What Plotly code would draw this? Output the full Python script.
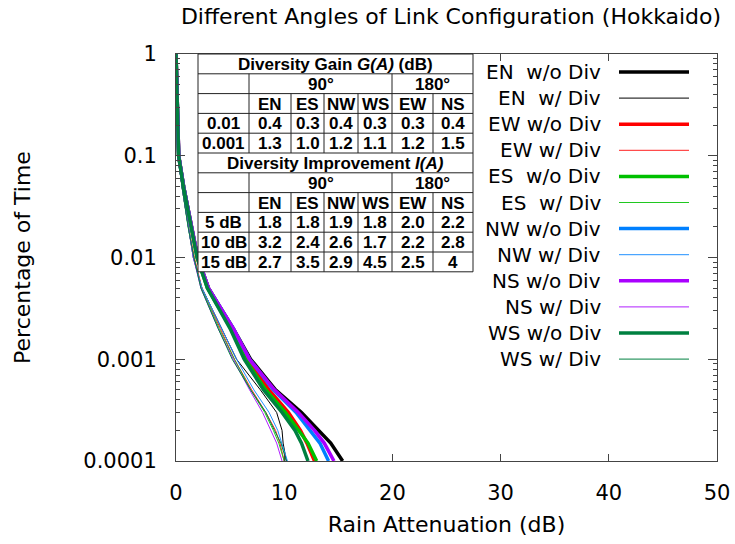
import plotly.graph_objects as go

# ---------------------------------------------------------------- data
# exceedance probability levels shared by all curves
prob = [1, 0.3, 0.1, 0.05, 0.02, 0.01, 0.005, 0.002, 0.001,
        0.0005, 0.0003, 0.0002, 0.00015, 0.0001]

# rain attenuation (dB) exceeded at each probability, single link (w/o Div)
en_wo = [0, 0.1, 0.25, 0.7, 1.45, 2.0, 3.0, 5.3, 6.9, 9.2, 11.6, 13.2, 14.3, 15.4]
ew_wo = [0, 0.1, 0.25, 0.7, 1.45, 2.0, 3.0, 5.2, 6.6, 8.6, 10.4, 11.5, 12.1, 12.8]
es_wo = [0, 0.1, 0.24, 0.7, 1.4, 1.95, 2.9, 5.1, 6.4, 8.3, 10.1, 11.3, 12.2, 13.0]
nw_wo = [0, 0.1, 0.25, 0.7, 1.45, 2.0, 3.0, 5.3, 6.8, 9.0, 11.1, 12.4, 13.3, 14.1]
ns_wo = [0, 0.1, 0.25, 0.7, 1.45, 2.0, 3.0, 5.3, 6.8, 9.1, 11.3, 12.8, 13.7, 14.6]
ws_wo = [0, 0.1, 0.24, 0.68, 1.4, 1.95, 2.9, 5.0, 6.3, 8.1, 9.8, 11.0, 11.6, 12.2]

# rain attenuation (dB) with site diversity (w/ Div)
en_w = [0, 0.08, 0.2, 0.55, 1.15, 1.6, 2.4, 4.2, 5.6, 7.8, 9.3, 9.8, 9.9, 10.2]
ew_w = [0, 0.08, 0.2, 0.55, 1.15, 1.7, 2.4, 4.1, 5.4, 7.0, 8.3, 9.2, 9.6, 10.0]
es_w = [0, 0.08, 0.2, 0.55, 1.12, 1.65, 2.35, 4.0, 5.4, 6.9, 8.2, 9.0, 9.5, 10.0]
nw_w = [0, 0.08, 0.2, 0.55, 1.15, 1.6, 2.4, 4.2, 5.6, 7.2, 8.6, 9.4, 9.8, 10.3]
ns_w = [0, 0.08, 0.2, 0.55, 1.12, 1.6, 2.3, 3.9, 5.3, 6.8, 8.0, 8.8, 9.3, 9.8]
ws_w = [0, 0.08, 0.2, 0.55, 1.12, 1.65, 2.3, 3.9, 5.2, 6.9, 8.3, 9.1, 9.7, 10.2]

# summary table contents
table_cols = ["EN", "ES", "NW", "WS", "EW", "NS"]
gain_rows = ["0.01", "0.001"]
gain_vals = [["0.4", "0.3", "0.4", "0.3", "0.3", "0.4"],
             ["1.3", "1.0", "1.2", "1.1", "1.2", "1.5"]]
impr_rows = ["5 dB", "10 dB", "15 dB"]
impr_vals = [["1.8", "1.8", "1.9", "1.8", "2.0", "2.2"],
             ["3.2", "2.4", "2.6", "1.7", "2.2", "2.8"],
             ["2.7", "3.5", "2.9", "4.5", "2.5", "4"]]

y_tickvals = [1, 0.1, 0.01, 0.001, 0.0001]
y_ticktext = ["1", "0.1", "0.01", "0.001", "0.0001"]
x_tickvals = [0, 10, 20, 30, 40, 50]

series = [
    ("EN\u00a0 w/o Div", en_wo, "#000000", 3.5),
    ("EN\u00a0 w/ Div", en_w, "#000000", 1),
    ("EW w/o Div", ew_wo, "#ff0000", 3.5),
    ("EW w/ Div", ew_w, "#ff2020", 1),
    ("ES\u00a0 w/o Div", es_wo, "#00c000", 3.5),
    ("ES\u00a0 w/ Div", es_w, "#20c820", 1),
    ("NW w/o Div", nw_wo, "#0080ff", 3.5),
    ("NW w/ Div", nw_w, "#2090ff", 1),
    ("NS w/o Div", ns_wo, "#aa00ff", 3.5),
    ("NS w/ Div", ns_w, "#b020ff", 1),
    ("WS w/o Div", ws_wo, "#008040", 3.5),
    ("WS w/ Div", ws_w, "#008040", 1),
]

# ---------------------------------------------------------------- layout geometry
FIG_W, FIG_H = 735, 544
L, R, T, B = 176, 717, 54, 461          # plot frame in pixels
PW, PH = R - L, B - T


def px_x(px):
    return (px - L) / PW


def px_y(py):
    return (B - py) / PH


fig = go.Figure()
for name, xs, color, width in series:
    fig.add_trace(go.Scatter(x=xs, y=prob, mode="lines", name=name,
                             line=dict(color=color, width=width),
                             showlegend=False))

shapes = []
annotations = []

# ---- legend (text on the left, line sample on the right)
leg_y0, leg_dy = 72, 26.1
for i, (name, xs, color, width) in enumerate(series):
    yy = px_y(leg_y0 + i * leg_dy)
    annotations.append(dict(x=px_x(603), y=yy, xref="paper", yref="paper",
                            text=name, showarrow=False, xanchor="right",
                            yanchor="middle",
                            font=dict(family="DejaVu Sans", size=20,
                                      color="#000000")))
    shapes.append(dict(type="line", xref="paper", yref="paper",
                       x0=px_x(619), x1=px_x(689), y0=yy, y1=yy,
                       line=dict(color=color, width=width), layer="above"))

# ---- summary table
col_edges = [198, 249, 291, 324, 358, 392, 433, 473]
row_top, row_h, n_rows = 54, 19.8, 11
row_edges = [row_top + k * row_h for k in range(n_rows + 1)]
tab_line = dict(color="#222222", width=1)

shapes.append(dict(type="rect", xref="paper", yref="paper",
                   x0=px_x(col_edges[0]), x1=px_x(col_edges[-1]),
                   y0=px_y(row_edges[-1]), y1=px_y(row_edges[0]),
                   fillcolor="white", line=tab_line, layer="above"))
for k in range(1, n_rows):
    shapes.append(dict(type="line", xref="paper", yref="paper",
                       x0=px_x(col_edges[0]), x1=px_x(col_edges[-1]),
                       y0=px_y(row_edges[k]), y1=px_y(row_edges[k]),
                       line=tab_line, layer="above"))


def vlines(row_a, row_b, edges):
    for e in edges:
        shapes.append(dict(type="line", xref="paper", yref="paper",
                           x0=px_x(e), x1=px_x(e),
                           y0=px_y(row_edges[row_a]), y1=px_y(row_edges[row_b]),
                           line=tab_line, layer="above"))


inner = col_edges[1:-1]
vlines(1, 2, [col_edges[1], col_edges[5]])
vlines(2, 5, inner)
vlines(6, 7, [col_edges[1], col_edges[5]])
vlines(7, 11, inner)

tab_font = dict(family="Liberation Sans, Arial", size=17, color="#000000")


def cell(text, x_px, row):
    annotations.append(dict(x=px_x(x_px),
                            y=px_y(row_edges[row] + row_h / 2 + 0.5),
                            xref="paper", yref="paper",
                            text="<b>" + text + "</b>", showarrow=False,
                            xanchor="center", yanchor="middle",
                            font=tab_font))


def mid(a, b):
    return (col_edges[a] + col_edges[b]) / 2


def block(top_row, title, row_labels, values):
    cell(title, mid(0, 7), top_row)
    cell("90°", mid(1, 5), top_row + 1)
    cell("180°", mid(5, 7), top_row + 1)
    for j, c in enumerate(table_cols):
        cell(c, mid(j + 1, j + 2), top_row + 2)
    for i, lab in enumerate(row_labels):
        cell(lab, mid(0, 1), top_row + 3 + i)
        for j, v in enumerate(values[i]):
            cell(v, mid(j + 1, j + 2), top_row + 3 + i)


block(0, "Diversity Gain <i>G(A)</i> (dB)", gain_rows, gain_vals)
block(5, "Diversity Improvement <i>I(A)</i>", impr_rows, impr_vals)

# minor log ticks at 2..9 of every decade
minor_vals = [m * 10.0 ** e for e in range(-4, 0) for m in range(2, 10)]

tick_font = dict(family="DejaVu Sans", size=21, color="#000000")
title_font = dict(family="DejaVu Sans", size=22, color="#000000")
frame = dict(showline=True, linecolor="#444444", linewidth=1, mirror="allticks",
             showgrid=False, zeroline=False, ticks="inside",
             tickcolor="#444444", tickfont=tick_font)

fig.update_layout(
    width=FIG_W, height=FIG_H,
    margin=dict(l=L, r=FIG_W - R, t=T, b=FIG_H - B, autoexpand=False),
    paper_bgcolor="white", plot_bgcolor="white",
    title=dict(text="Different Angles of Link Configuration (Hokkaido)",
               x=451 / FIG_W, y=1 - 16 / FIG_H, xanchor="center",
               yanchor="middle", font=title_font),
    xaxis=dict(range=[0, 50], tickvals=x_tickvals, ticklen=7,
               ticklabelstandoff=13,
               title=dict(text="Rain Attenuation (dB)", font=title_font,
                          standoff=12),
               **frame),
    yaxis=dict(type="log", range=[-4, 0], tickvals=y_tickvals,
               ticktext=y_ticktext, ticklen=9, ticklabelstandoff=14,
               minor=dict(ticks="inside", ticklen=4, tickcolor="#444444",
                          tickvals=minor_vals, showgrid=False),
               title=dict(text="Percentage of Time", font=title_font,
                          standoff=46),
               **frame),
    shapes=shapes,
    annotations=annotations,
)

fig.write_html("out.html")
